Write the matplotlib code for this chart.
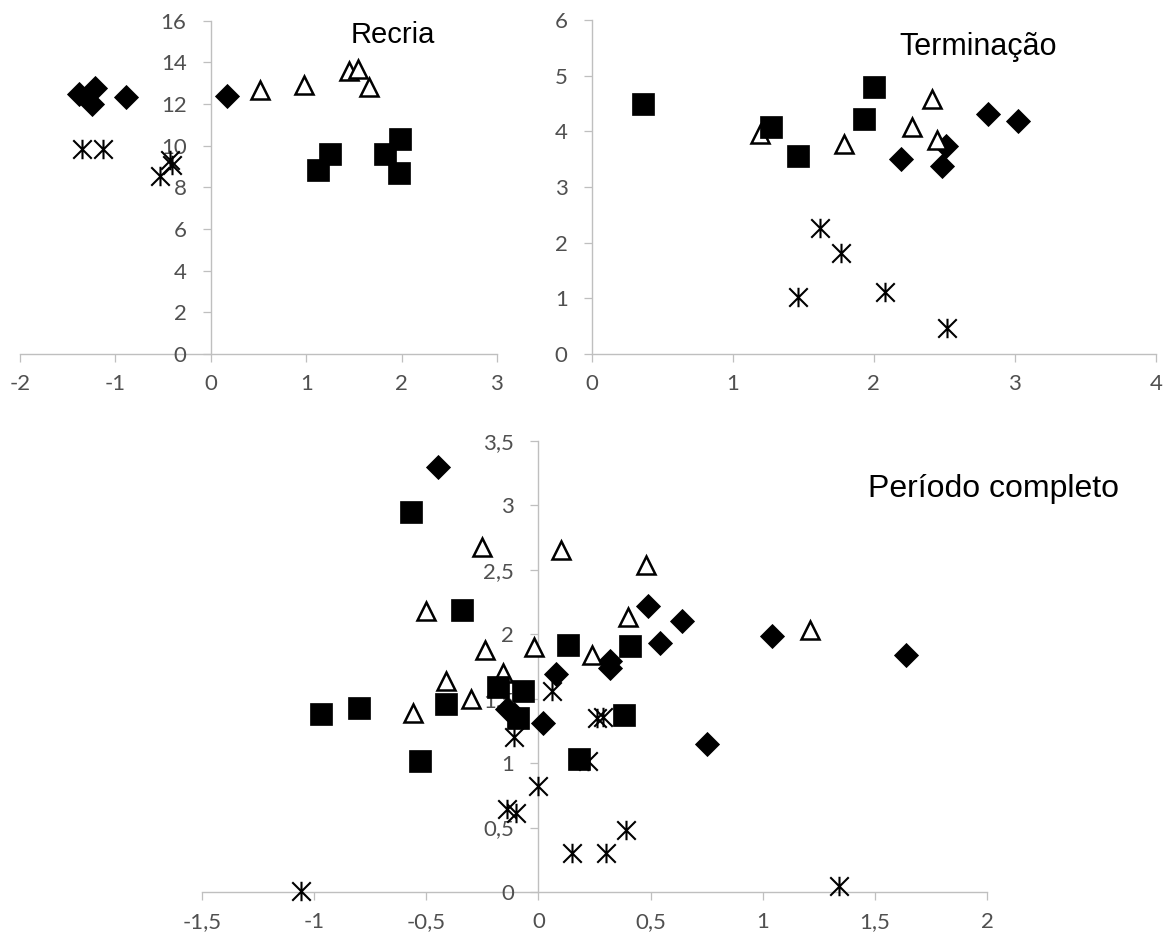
import matplotlib
matplotlib.use("Agg")
import matplotlib.pyplot as plt
from matplotlib.path import Path

# ---------------- data ----------------
# Recria
rec_diam_x = [-1.38, -1.21, -1.24, -0.89, 0.17]
rec_diam_y = [12.46, 12.78, 12.01, 12.33, 12.38]
rec_tri_x = [0.52, 0.98, 1.45, 1.54, 1.66]
rec_tri_y = [12.68, 12.89, 13.58, 13.69, 12.81]
rec_sq_x = [1.12, 1.25, 1.83, 1.98, 1.97]
rec_sq_y = [8.85, 9.58, 9.58, 10.34, 8.69]
rec_ast_x = [-1.35, -1.13, -0.53, -0.43, -0.41]
rec_ast_y = [9.86, 9.86, 8.53, 9.33, 9.06]

# Terminação
ter_diam_x = [2.19, 2.48, 2.51, 2.81, 3.02]
ter_diam_y = [3.50, 3.37, 3.74, 4.31, 4.19]
ter_tri_x = [1.19, 1.79, 2.27, 2.41, 2.45]
ter_tri_y = [3.96, 3.78, 4.07, 4.59, 3.84]
ter_sq_x = [0.36, 1.27, 1.46, 1.93, 2.00]
ter_sq_y = [4.50, 4.07, 3.56, 4.22, 4.79]
ter_ast_x = [1.62, 1.77, 1.46, 2.08, 2.52]
ter_ast_y = [2.26, 1.81, 1.03, 1.11, 0.46]

# Período completo
per_diam_x = [-0.45, -0.14, -0.11, 0.02, 0.08, 0.32, 0.32, 0.49, 0.54, 0.64, 1.04, 1.64, 0.75]
per_diam_y = [3.30, 1.42, 1.38, 1.31, 1.69, 1.79, 1.74, 2.22, 1.93, 2.10, 1.99, 1.84, 1.15]
per_sq_x = [-0.57, -0.34, -0.97, -0.80, -0.41, -0.53, -0.18, -0.07, -0.09, 0.13, 0.41, 0.38, 0.18]
per_sq_y = [2.95, 2.19, 1.38, 1.43, 1.46, 1.02, 1.59, 1.56, 1.35, 1.92, 1.91, 1.37, 1.03]
per_tri_x = [-0.25, 0.10, 0.48, -0.50, 0.40, -0.24, -0.02, 0.24, -0.16, -0.41, -0.30, -0.56, 1.21]
per_tri_y = [2.68, 2.65, 2.54, 2.18, 2.13, 1.88, 1.90, 1.84, 1.70, 1.64, 1.50, 1.39, 2.03]
per_ast_x = [-1.06, 0.06, 0.26, 0.29, -0.11, 0.22, 0.00, -0.14, -0.10, 0.15, 0.30, 0.39, 1.34]
per_ast_y = [0.005, 1.56, 1.35, 1.36, 1.20, 1.02, 0.82, 0.64, 0.61, 0.30, 0.30, 0.48, 0.05]

# ticks and labels
rec_xticks = [-2, -1, 0, 1, 2, 3]
rec_xlabels = ["-2", "-1", "0", "1", "2", "3"]
rec_yticks = [0, 2, 4, 6, 8, 10, 12, 14, 16]
rec_ylabels = ["0", "2", "4", "6", "8", "10", "12", "14", "16"]
ter_xticks = [0, 1, 2, 3, 4]
ter_xlabels = ["0", "1", "2", "3", "4"]
ter_yticks = [0, 1, 2, 3, 4, 5, 6]
ter_ylabels = ["0", "1", "2", "3", "4", "5", "6"]
per_xticks = [-1.5, -1, -0.5, 0, 0.5, 1, 1.5, 2]
per_xlabels = ["-1,5", "-1", "-0,5", "0", "0,5", "1", "1,5", "2"]
per_yticks = [0, 0.5, 1, 1.5, 2, 2.5, 3, 3.5]
per_ylabels = ["0", "0,5", "1", "1,5", "2", "2,5", "3", "3,5"]

titles = ["Recria", "Terminação", "Período completo"]

# ---------------- style ----------------
AX_COLOR = "#BFBFBF"
LBL_COLOR = "#505050"
TICK_FONT = "Lato"

star = Path([(0, -1), (0, 1), (-0.95, -0.95), (0.95, 0.95), (-0.95, 0.95), (0.95, -0.95)],
            [Path.MOVETO, Path.LINETO, Path.MOVETO, Path.LINETO, Path.MOVETO, Path.LINETO])

fig = plt.figure(figsize=(11.71, 9.40), dpi=100)
fig.patch.set_facecolor("white")


def style_axes(ax, xlim, ylim, xt, xl, yt, yl):
    ax.set_xlim(*xlim)
    ax.set_ylim(*ylim)
    ax.patch.set_alpha(0)
    for s in ["top", "right"]:
        ax.spines[s].set_visible(False)
    ax.spines["left"].set_position(("data", 0))
    for s in ["left", "bottom"]:
        ax.spines[s].set_color(AX_COLOR)
        ax.spines[s].set_linewidth(1.0)
        ax.spines[s].set_zorder(1)
    ax.set_xticks(xt)
    ax.set_xticklabels(xl)
    ax.set_yticks(yt)
    ax.set_yticklabels(yl)
    ax.tick_params(axis="x", direction="out", length=5.5, width=0.9, color=AX_COLOR,
                   labelcolor=LBL_COLOR, labelsize=16, pad=9)
    ax.tick_params(axis="y", direction="out", length=5.5, width=0.9, color=AX_COLOR,
                   labelcolor=LBL_COLOR, labelsize=16, pad=12)
    for lab in ax.get_xticklabels() + ax.get_yticklabels():
        lab.set_family(TICK_FONT)


def draw(ax, dx, dy, tx, ty, sx, sy, ax_, ay):
    kw = dict(linestyle="none", zorder=3, clip_on=False)
    ax.plot(dx, dy, marker="D", ms=12.5, mfc="black", mec="black", mew=0.6, **kw)
    ax.plot(tx, ty, marker="^", ms=12.5, mfc="white", mec="black", mew=1.8, **kw)
    ax.plot(sx, sy, marker="s", ms=15.5, mfc="black", mec="black", mew=0.5, **kw)
    ax.plot(ax_, ay, marker=star, ms=14, mfc="none", mec="black", mew=1.5, **kw)


# Panel 1 - Recria
ax1 = fig.add_axes([0.01708, 0.6234, 0.4073, 0.3546])
style_axes(ax1, (-2, 3), (0, 16), rec_xticks, rec_xlabels, rec_yticks, rec_ylabels)
draw(ax1, rec_diam_x, rec_diam_y, rec_tri_x, rec_tri_y, rec_sq_x, rec_sq_y, rec_ast_x, rec_ast_y)

# Panel 2 - Terminação
ax2 = fig.add_axes([0.5055, 0.6234, 0.4816, 0.3553])
style_axes(ax2, (0, 4), (0, 6), ter_xticks, ter_xlabels, ter_yticks, ter_ylabels)
draw(ax2, ter_diam_x, ter_diam_y, ter_tri_x, ter_tri_y, ter_sq_x, ter_sq_y, ter_ast_x, ter_ast_y)

# Panel 3 - Período completo
ax3 = fig.add_axes([0.1725, 0.0511, 0.6704, 0.4798])
style_axes(ax3, (-1.5, 2), (0, 3.5), per_xticks, per_xlabels, per_yticks, per_ylabels)
draw(ax3, per_diam_x, per_diam_y, per_tri_x, per_tri_y, per_sq_x, per_sq_y, per_ast_x, per_ast_y)

# Titles
fig.text(393 / 1171, 1 - 43 / 940, titles[0], ha="center", va="baseline",
         family="Liberation Sans", fontsize=21, color="black")
fig.text(978 / 1171, 1 - 55 / 940, titles[1], ha="center", va="baseline",
         family="Liberation Sans", fontsize=22, color="black")
fig.text(993 / 1171, 1 - 497 / 940, titles[2], ha="center", va="baseline",
         family="Liberation Sans", fontsize=23, color="black")

fig.savefig("out.png", dpi=100, facecolor="white")
